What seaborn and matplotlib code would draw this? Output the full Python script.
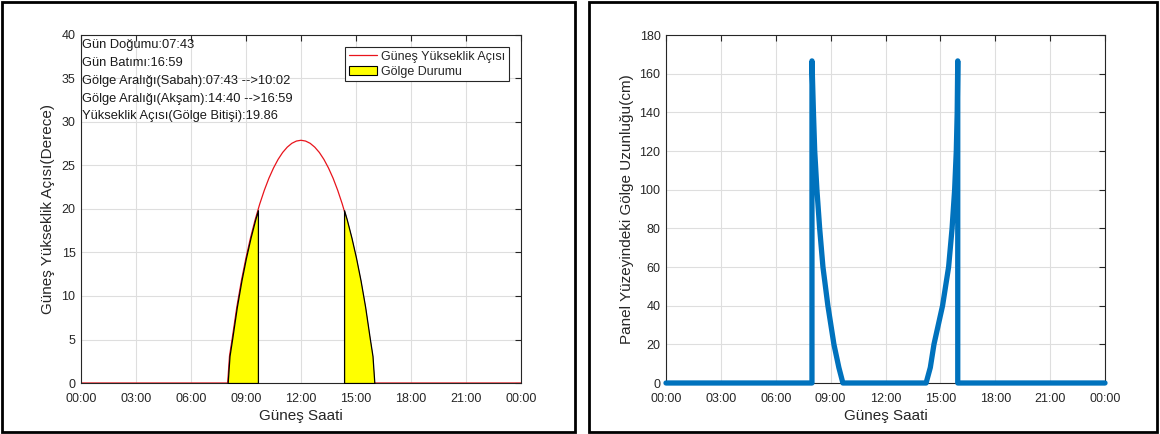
import numpy as np
import pandas as pd
import matplotlib
matplotlib.use("Agg")
import matplotlib.pyplot as plt
import seaborn as sns
from matplotlib.patches import Rectangle, Patch
from matplotlib.lines import Line2D

# ---------------- data ----------------
# Left panel: sun elevation angle (hours of day, degrees)
elev_hours = [0.0, 8.0, 8.1, 8.25, 8.5, 8.75, 9.0, 9.25, 9.5, 9.65, 9.75, 10.0, 10.25, 10.5,
              10.75, 11.0, 11.25, 11.5, 11.75, 12.0, 12.25, 12.5, 12.75, 13.0, 13.25,
              13.5, 13.75, 14.0, 14.25, 14.35, 14.5, 14.75, 15.0, 15.25, 15.5, 15.75,
              15.9, 16.0, 24.0]
elev_deg = [0.0, 0.0, 3.1, 5.15, 8.74, 11.77, 14.40, 16.72, 18.77, 19.86, 20.58, 22.16, 23.54,
            24.71, 25.70, 26.50, 27.11, 27.55, 27.81, 27.90, 27.81, 27.55, 27.11, 26.50,
            25.70, 24.71, 23.54, 22.16, 20.58, 19.86, 18.77, 16.72, 14.40, 11.77, 8.74,
            5.15, 3.1, 0.0, 0.0]
shade_morning = (8.0, 9.65)
shade_evening = (14.35, 16.0)

info_lines = ["Gün Doğumu:07:43",
              "Gün Batımı:16:59",
              "Gölge Aralığı(Sabah):07:43 -->10:02",
              "Gölge Aralığı(Akşam):14:40 -->16:59",
              "Yükseklik Açısı(Gölge Bitişi):19.86"]

# Right panel: shadow length on panel surface (hours, cm)
shadow_hours = [0.0, 7.98, 7.98, 8.06, 8.13, 8.25, 8.40, 8.58, 8.85, 9.18, 9.45, 9.67,
                14.22, 14.45, 14.65, 15.12, 15.45, 15.64, 15.78, 15.87, 15.92, 15.95, 15.95, 24.0]
shadow_cm = [0.0, 0.0, 166.6, 140.0, 120.0, 100.0, 80.0, 60.0, 40.0, 20.0, 8.0, 0.0,
             0.0, 8.0, 20.0, 40.0, 60.0, 80.0, 100.0, 120.0, 140.0, 166.6, 0.0, 0.0]

x_ticks = [0, 3, 6, 9, 12, 15, 18, 21, 24]
x_tick_labels = ["00:00", "03:00", "06:00", "09:00", "12:00", "15:00", "18:00", "21:00", "00:00"]
left_y_ticks = [0, 5, 10, 15, 20, 25, 30, 35, 40]
right_y_ticks = [0, 20, 40, 60, 80, 100, 120, 140, 160, 180]

# ---------------- style ----------------
sns.set_theme(style="white")
plt.rcParams['font.family'] = ['Liberation Sans', 'DejaVu Sans']

AX_COL = "#262626"
GRID_COL = "#dedede"

fig = plt.figure(figsize=(11.6, 4.34), dpi=100)
fig.patch.set_facecolor("white")
W, H = 1160.0, 434.0

def ax_rect(l, r, t, b):
    return [l / W, 1 - b / H, (r - l) / W, (b - t) / H]

axL = fig.add_axes(ax_rect(81, 521, 35, 383))
axR = fig.add_axes(ax_rect(666, 1105, 35, 383))

def style(ax, yticks, ylabel):
    ax.set_xlim(0, 24)
    ax.set_ylim(yticks[0], yticks[-1])
    ax.set_xticks(x_ticks)
    ax.set_xticklabels(x_tick_labels)
    ax.set_yticks(yticks)
    ax.set_yticklabels([str(v) for v in yticks])
    ax.grid(True, color=GRID_COL, linewidth=0.8)
    ax.set_axisbelow(True)
    for s in ax.spines.values():
        s.set_visible(True)
        s.set_color(AX_COL)
        s.set_linewidth(0.8)
    ax.tick_params(axis='both', which='both', direction='in', length=4, width=0.8,
                   colors=AX_COL, labelsize=9, top=True, right=True,
                   labelcolor=AX_COL)
    ax.tick_params(axis='x', pad=7)
    ax.tick_params(axis='y', pad=4)
    ax.set_xlabel("Güneş Saati", fontsize=11, color=AX_COL, labelpad=3)
    ax.set_ylabel(ylabel, fontsize=11, color=AX_COL)

# ---------------- left panel ----------------
dfL = pd.DataFrame({"saat": elev_hours, "aci": elev_deg})
sns.lineplot(data=dfL, x="saat", y="aci", ax=axL, color="#e8141c", linewidth=0.9,
             estimator=None, sort=False, zorder=2)
xh = np.array(elev_hours)
yd = np.array(elev_deg)
for a, b in (shade_morning, shade_evening):
    mask = (xh >= a) & (xh <= b)
    axL.fill_between(xh, yd, 0, where=mask, facecolor="#ffff00", edgecolor="black",
                     linewidth=0.9, zorder=3)
style(axL, left_y_ticks, "Güneş Yükseklik Açısı(Derece)")

for i, line in enumerate(info_lines):
    axL.text(0.003, 0.972 - i * 0.0515, line, transform=axL.transAxes, fontsize=9.3,
             color="#1a1a1a", va="center", ha="left", zorder=5)

handles = [Line2D([0], [0], color="#e8141c", linewidth=0.9),
           Patch(facecolor="#ffff00", edgecolor="black", linewidth=0.8)]
leg = axL.legend(handles, ["Güneş Yükseklik Açısı", "Gölge Durumu"],
                 loc="upper right", bbox_to_anchor=(0.973, 0.966), fontsize=9,
                 frameon=True, fancybox=False, edgecolor="#262626", framealpha=1,
                 borderpad=0.3, handlelength=2.3, handletextpad=0.3,
                 labelspacing=0.25, borderaxespad=0)
leg.get_frame().set_linewidth(0.8)

# ---------------- right panel ----------------
dfR = pd.DataFrame({"saat": shadow_hours, "golge": shadow_cm})
sns.lineplot(data=dfR, x="saat", y="golge", ax=axR, color="#0072bd", linewidth=3.8,
             estimator=None, sort=False, zorder=3, solid_capstyle="round",
             solid_joinstyle="round")
style(axR, right_y_ticks, "Panel Yüzeyindeki Gölge Uzunluğu(cm)")
for ln in axR.lines:
    ln.set_clip_on(False)

# ---------------- panel frames ----------------
for (l, r) in ((2, 575), (589, 1157)):
    fig.add_artist(Rectangle((l / W, 2 / H), (r - l) / W, (430) / H,
                             transform=fig.transFigure, fill=False,
                             edgecolor="black", linewidth=2.0))

axL.yaxis.set_label_coords(-0.060, 0.5)
axR.yaxis.set_label_coords(-0.073, 0.5)

fig.savefig("out.png", dpi=100, facecolor="white")
